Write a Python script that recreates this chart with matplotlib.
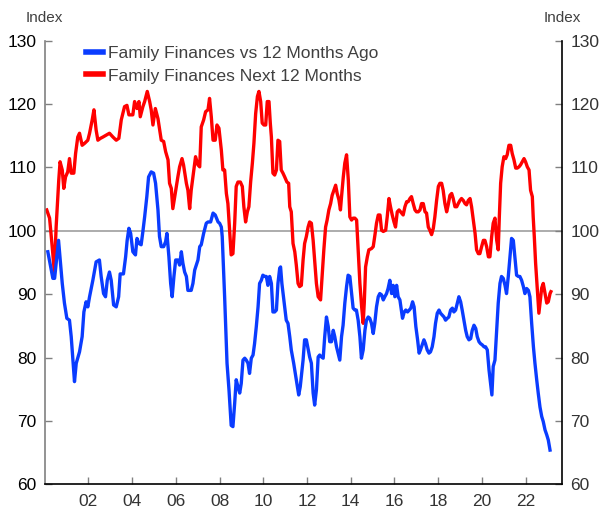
"""Family finances index chart (two monthly survey series, 2000-2023)."""
import matplotlib.pyplot as plt
from matplotlib.lines import Line2D

plt.rcParams['font.family'] = ['Liberation Sans', 'DejaVu Sans']

BLUE = "#0a3cff"
RED = "#ff0000"
GRAY = "#a6a6a6"
TXT = "#404040"

# Family Finances vs 12 Months Ago
blue_t = [
    2000.14, 2000.37, 2000.45, 2000.63, 2000.80, 2000.90, 2001.01, 2001.13, 2001.21, 2001.36,
    2001.44, 2001.59, 2001.71, 2001.79, 2001.89, 2001.97, 2002.05, 2002.20, 2002.35, 2002.50,
    2002.58, 2002.69, 2002.78, 2002.86, 2002.96, 2003.04, 2003.15, 2003.27, 2003.38, 2003.45,
    2003.60, 2003.70, 2003.77, 2003.85, 2003.93, 2004.03, 2004.15, 2004.22, 2004.31, 2004.41,
    2004.49, 2004.57, 2004.67, 2004.75, 2004.87, 2004.98, 2005.07, 2005.18, 2005.25, 2005.33,
    2005.44, 2005.53, 2005.59, 2005.68, 2005.76, 2005.83, 2005.91, 2005.99, 2006.09, 2006.17,
    2006.25, 2006.32, 2006.40, 2006.48, 2006.55, 2006.70, 2006.78, 2006.86, 2007.01, 2007.09,
    2007.16, 2007.27, 2007.39, 2007.47, 2007.59, 2007.70, 2007.80, 2007.93, 2008.00, 2008.08,
    2008.12, 2008.23, 2008.34, 2008.43, 2008.53, 2008.61, 2008.69, 2008.76, 2008.84, 2008.92,
    2008.99, 2009.07, 2009.15, 2009.22, 2009.30, 2009.37, 2009.45, 2009.53, 2009.60, 2009.68,
    2009.76, 2009.83, 2009.91, 2009.98, 2010.06, 2010.14, 2010.21, 2010.29, 2010.37, 2010.44,
    2010.52, 2010.60, 2010.67, 2010.75, 2010.79, 2010.85, 2010.98, 2011.05, 2011.13, 2011.21,
    2011.28, 2011.39, 2011.51, 2011.62, 2011.69, 2011.82, 2011.89, 2011.97, 2012.05, 2012.12,
    2012.20, 2012.28, 2012.35, 2012.43, 2012.51, 2012.58, 2012.66, 2012.74, 2012.81, 2012.89,
    2012.97, 2013.04, 2013.12, 2013.20, 2013.27, 2013.35, 2013.42, 2013.50, 2013.58, 2013.65,
    2013.73, 2013.81, 2013.88, 2013.96, 2014.04, 2014.11, 2014.19, 2014.26, 2014.34, 2014.42,
    2014.49, 2014.57, 2014.65, 2014.72, 2014.80, 2014.87, 2014.95, 2015.03, 2015.10, 2015.18,
    2015.26, 2015.33, 2015.41, 2015.49, 2015.56, 2015.64, 2015.71, 2015.79, 2015.87, 2015.94,
    2016.02, 2016.10, 2016.17, 2016.25, 2016.37, 2016.45, 2016.52, 2016.60, 2016.68, 2016.75,
    2016.83, 2016.90, 2016.98, 2017.06, 2017.13, 2017.19, 2017.27, 2017.35, 2017.42, 2017.50,
    2017.58, 2017.65, 2017.73, 2017.81, 2017.88, 2017.96, 2018.04, 2018.11, 2018.19, 2018.27,
    2018.34, 2018.42, 2018.49, 2018.57, 2018.65, 2018.72, 2018.80, 2018.88, 2018.95, 2019.03,
    2019.10, 2019.18, 2019.26, 2019.33, 2019.41, 2019.49, 2019.56, 2019.64, 2019.72, 2019.79,
    2019.87, 2019.94, 2020.02, 2020.10, 2020.17, 2020.25, 2020.33, 2020.40, 2020.46, 2020.52,
    2020.60, 2020.68, 2020.75, 2020.83, 2020.90, 2020.98, 2021.06, 2021.13, 2021.21, 2021.29,
    2021.36, 2021.44, 2021.51, 2021.59, 2021.67, 2021.74, 2021.82, 2021.90, 2021.97, 2022.05,
    2022.13, 2022.20, 2022.28, 2022.36, 2022.43, 2022.51, 2022.58, 2022.66, 2022.74, 2022.81,
    2022.89, 2022.97, 2023.04, 2023.12,
]
blue_v = [
    96.7, 92.5, 92.5, 98.5, 91.7, 88.6, 86.2, 85.9, 83.3, 76.2,
    79.1, 80.9, 83.3, 87.2, 88.8, 88.0, 89.6, 92.2, 95.1, 95.4,
    92.8, 90.1, 89.6, 92.2, 93.5, 92.2, 88.3, 88.0, 89.6, 93.2,
    93.2, 95.9, 98.5, 100.4, 99.6, 96.7, 96.2, 98.8, 98.0, 97.8,
    99.9, 102.2, 105.4, 108.5, 109.3, 109.1, 107.5, 103.3, 99.1, 97.5,
    97.5, 98.3, 99.6, 95.9, 91.7, 89.6, 92.8, 95.4, 95.4, 94.6,
    96.7, 94.9, 93.5, 92.8, 90.6, 90.6, 91.7, 93.8, 95.4, 97.5,
    97.8, 99.6, 101.2, 101.4, 101.4, 102.8, 102.5, 101.4, 101.2, 100.6,
    99.1, 89.6, 79.1, 74.9, 69.3, 69.1, 72.8, 76.5, 75.4, 74.4,
    75.9, 79.6, 79.9, 79.6, 79.1, 77.5, 79.9, 80.4, 82.2, 84.9,
    88.0, 91.7, 92.2, 93.0, 92.8, 92.8, 91.4, 92.8, 91.7, 87.2,
    87.2, 87.5, 91.7, 94.1, 94.3, 91.7, 88.0, 85.9, 85.4, 83.3,
    81.2, 79.1, 76.5, 74.1, 75.4, 79.6, 82.8, 82.8, 81.4, 80.1,
    79.1, 74.4, 72.5, 74.9, 80.1, 80.4, 80.1, 79.9, 83.3, 86.4,
    84.9, 82.5, 82.5, 84.3, 83.3, 81.7, 80.7, 79.6, 83.3, 85.1,
    88.6, 91.2, 93.0, 92.8, 90.2, 87.8, 87.5, 87.5, 85.9, 83.3,
    79.9, 81.2, 84.3, 85.9, 86.4, 86.2, 85.4, 83.8, 85.4, 88.0,
    89.6, 90.1, 89.9, 89.1, 89.6, 90.1, 90.9, 92.2, 90.1, 91.4,
    89.6, 91.4, 89.6, 89.1, 86.2, 87.2, 87.5, 87.2, 87.5, 87.8,
    88.8, 88.0, 84.9, 82.8, 80.7, 81.2, 82.0, 82.8, 82.2, 81.2,
    80.7, 80.9, 81.7, 83.3, 85.4, 87.0, 87.5, 87.0, 86.7, 86.4,
    85.9, 86.2, 86.4, 87.5, 87.8, 87.2, 87.5, 88.6, 89.6, 88.8,
    87.5, 85.9, 84.3, 83.3, 82.8, 83.0, 84.3, 85.1, 84.6, 83.3,
    82.5, 82.2, 82.0, 81.7, 81.7, 81.2, 78.0, 75.9, 74.1, 78.6,
    79.6, 84.3, 88.6, 91.7, 92.8, 92.5, 91.4, 90.1, 92.8, 95.9,
    98.8, 98.5, 95.9, 93.0, 92.8, 92.8, 92.2, 91.2, 90.1, 90.9,
    90.6, 89.6, 85.4, 81.7, 79.1, 76.5, 74.4, 72.2, 70.7, 69.9,
    68.6, 67.8, 67.0, 65.4,
]

# Family Finances Next 12 Months
red_t = [
    2000.09, 2000.22, 2000.34, 2000.44, 2000.52, 2000.64, 2000.70, 2000.80, 2000.87, 2000.95,
    2001.05, 2001.13, 2001.21, 2001.33, 2001.41, 2001.51, 2001.59, 2001.71, 2001.82, 2001.97,
    2002.05, 2002.17, 2002.25, 2002.35, 2002.43, 2002.55, 2002.66, 2002.81, 2002.96, 2003.12,
    2003.27, 2003.39, 2003.50, 2003.65, 2003.76, 2003.85, 2004.03, 2004.11, 2004.22, 2004.31,
    2004.37, 2004.49, 2004.57, 2004.69, 2004.80, 2004.87, 2004.95, 2005.06, 2005.18, 2005.33,
    2005.44, 2005.53, 2005.64, 2005.71, 2005.79, 2005.86, 2005.97, 2006.09, 2006.17, 2006.28,
    2006.35, 2006.48, 2006.55, 2006.63, 2006.70, 2006.78, 2006.90, 2007.01, 2007.09, 2007.16,
    2007.27, 2007.36, 2007.47, 2007.54, 2007.62, 2007.70, 2007.80, 2007.88, 2007.97, 2008.08,
    2008.15, 2008.23, 2008.31, 2008.38, 2008.46, 2008.53, 2008.61, 2008.69, 2008.76, 2008.84,
    2008.95, 2009.04, 2009.11, 2009.19, 2009.27, 2009.34, 2009.42, 2009.50, 2009.57, 2009.65,
    2009.73, 2009.80, 2009.88, 2009.95, 2010.03, 2010.11, 2010.18, 2010.26, 2010.32, 2010.37,
    2010.44, 2010.52, 2010.60, 2010.67, 2010.75, 2010.82, 2010.90, 2010.98, 2011.08, 2011.16,
    2011.21, 2011.28, 2011.36, 2011.44, 2011.51, 2011.59, 2011.66, 2011.74, 2011.82, 2011.89,
    2011.97, 2012.05, 2012.12, 2012.20, 2012.28, 2012.36, 2012.43, 2012.51, 2012.62, 2012.69,
    2012.77, 2012.85, 2012.92, 2013.00, 2013.08, 2013.15, 2013.23, 2013.31, 2013.38, 2013.46,
    2013.53, 2013.58, 2013.66, 2013.73, 2013.81, 2013.89, 2013.96, 2014.04, 2014.11, 2014.19,
    2014.27, 2014.34, 2014.42, 2014.50, 2014.57, 2014.62, 2014.68, 2014.76, 2014.83, 2014.95,
    2015.03, 2015.11, 2015.18, 2015.26, 2015.34, 2015.41, 2015.49, 2015.60, 2015.67, 2015.75,
    2015.82, 2015.90, 2015.98, 2016.05, 2016.13, 2016.21, 2016.33, 2016.40, 2016.48, 2016.56,
    2016.63, 2016.71, 2016.78, 2016.86, 2016.94, 2017.01, 2017.09, 2017.17, 2017.24, 2017.32,
    2017.40, 2017.47, 2017.55, 2017.62, 2017.70, 2017.78, 2017.85, 2017.93, 2018.01, 2018.08,
    2018.16, 2018.23, 2018.31, 2018.39, 2018.46, 2018.54, 2018.62, 2018.69, 2018.77, 2018.85,
    2018.92, 2019.00, 2019.07, 2019.15, 2019.23, 2019.30, 2019.38, 2019.46, 2019.53, 2019.61,
    2019.69, 2019.76, 2019.84, 2019.91, 2019.99, 2020.07, 2020.14, 2020.22, 2020.30, 2020.37,
    2020.45, 2020.52, 2020.60, 2020.68, 2020.75, 2020.80, 2020.86, 2020.93, 2021.01, 2021.09,
    2021.16, 2021.24, 2021.32, 2021.39, 2021.47, 2021.55, 2021.62, 2021.70, 2021.77, 2021.85,
    2021.93, 2022.00, 2022.08, 2022.16, 2022.23, 2022.31, 2022.35, 2022.40, 2022.46, 2022.54,
    2022.61, 2022.66, 2022.74, 2022.81, 2022.89, 2022.97, 2023.04, 2023.12, 2023.16,
]
red_v = [
    103.3, 102.0, 97.5, 93.5, 100.6, 108.0, 110.9, 109.6, 106.7, 108.5,
    109.3, 111.4, 109.1, 109.1, 112.2, 114.8, 115.4, 113.5, 113.8, 114.3,
    115.4, 117.5, 119.1, 115.9, 114.3, 114.6, 114.8, 115.1, 115.4, 114.8,
    114.3, 114.6, 117.5, 119.6, 119.8, 118.3, 118.3, 120.4, 119.3, 120.4,
    118.0, 119.6, 120.4, 122.0, 120.4, 119.1, 116.7, 119.3, 117.7, 114.3,
    114.1, 112.5, 111.2, 107.5, 106.7, 103.5, 105.9, 108.5, 110.1, 111.4,
    110.4, 107.5, 106.4, 103.5, 106.4, 108.5, 111.7, 110.4, 110.1, 116.4,
    117.5, 118.8, 119.1, 120.9, 118.0, 114.3, 114.3, 116.7, 116.2, 112.7,
    109.6, 109.6, 105.9, 104.3, 100.1, 96.2, 96.4, 101.2, 107.0, 107.7,
    107.7, 107.0, 103.8, 101.4, 103.0, 103.8, 107.7, 110.7, 113.8, 118.5,
    121.2, 122.0, 120.4, 117.0, 116.7, 116.7, 120.4, 120.4, 117.0, 114.8,
    109.1, 108.8, 109.6, 114.3, 114.1, 109.6, 109.1, 108.5, 107.7, 107.5,
    103.8, 103.0, 98.0, 96.7, 94.6, 91.7, 91.2, 91.4, 95.4, 98.0,
    99.1, 100.6, 101.4, 101.2, 98.5, 94.9, 91.7, 89.6, 89.1, 92.8,
    97.0, 100.6, 101.7, 103.3, 104.3, 105.6, 106.4, 107.2, 105.9, 104.9,
    103.3, 105.4, 108.5, 110.7, 112.0, 108.0, 102.2, 101.7, 102.0, 102.0,
    101.7, 97.0, 91.7, 88.0, 85.4, 88.6, 94.3, 95.9, 97.0, 97.2,
    97.5, 99.4, 101.2, 102.5, 102.5, 100.1, 99.9, 100.1, 102.2, 105.1,
    103.8, 102.5, 101.4, 100.6, 103.0, 103.3, 102.8, 102.5, 103.8, 104.6,
    104.6, 105.1, 105.4, 104.3, 103.3, 103.0, 103.0, 103.3, 104.3, 104.3,
    103.0, 102.8, 100.6, 100.1, 99.4, 100.4, 102.2, 104.8, 107.0, 107.5,
    107.5, 106.4, 104.3, 103.0, 104.1, 105.6, 105.9, 105.1, 103.8, 103.8,
    104.3, 104.8, 105.1, 104.8, 104.3, 104.1, 104.8, 105.1, 103.8, 101.7,
    99.6, 97.0, 96.4, 96.4, 97.5, 98.5, 98.5, 97.5, 95.9, 95.9,
    99.1, 101.2, 102.0, 98.5, 97.0, 102.2, 107.5, 110.1, 111.7, 111.4,
    112.0, 113.5, 113.5, 112.2, 111.2, 109.9, 109.9, 110.1, 110.4, 110.9,
    111.4, 110.9, 110.1, 109.6, 106.4, 105.4, 102.2, 99.1, 94.9, 90.7,
    87.0, 88.6, 91.0, 91.7, 90.1, 88.6, 88.8, 90.1, 90.4,
]

labels = ["Family Finances vs 12 Months Ago", "Family Finances Next 12 Months"]
tick_years = [2002, 2004, 2006, 2008, 2010, 2012, 2014, 2016, 2018, 2020, 2022]
y_ticks = [60, 70, 80, 90, 100, 110, 120, 130]

fig = plt.figure(figsize=(6.05, 5.09), dpi=100)
ax = fig.add_axes([0.074, 0.0485, 0.855, 0.8715])

ax.axhline(100, color=GRAY, lw=1.3, zorder=1)
ax.plot(blue_t, blue_v, color=BLUE, lw=2.4, zorder=3, solid_joinstyle='round')
ax.plot(red_t, red_v, color=RED, lw=2.4, zorder=2, solid_joinstyle='round')

ax.set_xlim(2000, 2023.67)
ax.set_ylim(60, 130)
ax.set_xticks(tick_years)
ax.set_xticklabels([f"{y % 100:02d}" for y in tick_years])
ax.set_yticks(y_ticks)

ax.spines['top'].set_visible(False)
ax.spines['left'].set_color('#808080')
ax.spines['bottom'].set_color('black')
ax.spines['right'].set_color('black')
for s in ('left', 'right', 'bottom'):
    ax.spines[s].set_linewidth(1.2)

ax.tick_params(axis='x', direction='in', length=5, width=1, color='#808080',
               labelsize=12.5, pad=7, labelcolor='#333333')
ax.tick_params(axis='y', direction='in', length=5, width=1, color='#808080',
               labelsize=12.5, pad=6, labelcolor='black',
               right=True, labelright=True)
# right-hand axis: black ticks, slightly softer labels
for t in ax.yaxis.get_major_ticks():
    t.label2.set_color('#333333')
    t.tick2line.set_color('black')

fig.text(0.073, 0.965, "Index", ha='center', va='center', fontsize=11, color=TXT)
fig.text(0.930, 0.965, "Index", ha='center', va='center', fontsize=11, color=TXT)

handles = [Line2D([0], [0], color=BLUE, lw=4), Line2D([0], [0], color=RED, lw=4)]
ax.legend(handles, labels, loc='upper left', bbox_to_anchor=(0.066, 1.005),
          frameon=False, fontsize=12.5, handlelength=1.0, handletextpad=0.25,
          labelspacing=0.45, borderaxespad=0, labelcolor=TXT)

fig.savefig("out.png", dpi=100, facecolor='white')
